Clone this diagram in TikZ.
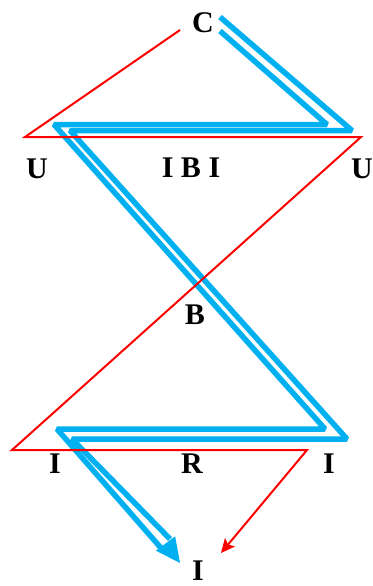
\documentclass[tikz,border=0pt]{standalone}
\usepackage{fontspec}
\setmainfont{Liberation Serif}
\usetikzlibrary{arrows.meta,calc}
\definecolor{skyblue}{RGB}{0,176,240}
\definecolor{pured}{RGB}{255,0,0}
\begin{document}
\begin{tikzpicture}[x=1pt,y=-1pt,
  lbl/.style={font=\bfseries\fontsize{30}{30}\selectfont, inner sep=0pt, text=black},
  redpath/.style={draw=pured, line width=2pt, line join=miter},
  strand/.style={draw=skyblue, line width=5.5pt, line join=bevel},
]
\useasboundingbox (0,0) rectangle (372,586);

% labels
\node[lbl] (C)   at (203,23)  {C};
\node[lbl] (Ul)  at (37,169)  {U};
\node[lbl] (IBI) at (191,168) {I B I};
\node[lbl] (Ur)  at (362,169) {U};
\node[lbl] (B)   at (195,315) {B};
\node[lbl] (Il)  at (55,464)  {I};
\node[lbl] (R)   at (192,464) {R};
\node[lbl] (Ir)  at (329,464) {I};
\node[lbl] (Ib)  at (198,571) {I};

% blue double path vertices
\coordinate (a1) at (220,17);
\coordinate (a2) at (352,130.5);
\coordinate (a3) at (70,130.5);
\coordinate (a4) at (347,439);
\coordinate (a5) at (72,439);
\coordinate (a6) at (170,539);
\coordinate (b1) at (220,31);
\coordinate (b2) at (327,124.5);
\coordinate (b3) at (54,124.5);
\coordinate (b4) at (325,429);
\coordinate (b5) at (57,429);
\coordinate (b6) at (161,548);
\coordinate (btip) at (180,563);
\coordinate (bmid) at ($(a6)!0.5!(b6)$);

\draw[strand] (a1) -- (a2) -- (a3) -- (a4) -- (a5) -- (a6);
\draw[strand] (b1) -- (b2) -- (b3) -- (b4) -- (b5) -- (b6);
\fill[skyblue] (btip) -- ($(bmid)!12pt!90:(btip)$) -- ($(bmid)!12pt!-90:(btip)$) -- cycle;

% red path vertices
\coordinate (r1) at (180,30);
\coordinate (r2) at (25,137);
\coordinate (r3) at (361,137);
\coordinate (r4) at (12,450);
\coordinate (r5) at (307,450);
\coordinate (r6) at (221,553);
\draw[redpath, -{Stealth[length=14pt,width=13pt,inset=3pt]}]
  (r1) -- (r2) -- (r3) -- (r4) -- (r5) -- (r6);
\end{tikzpicture}
\end{document}
